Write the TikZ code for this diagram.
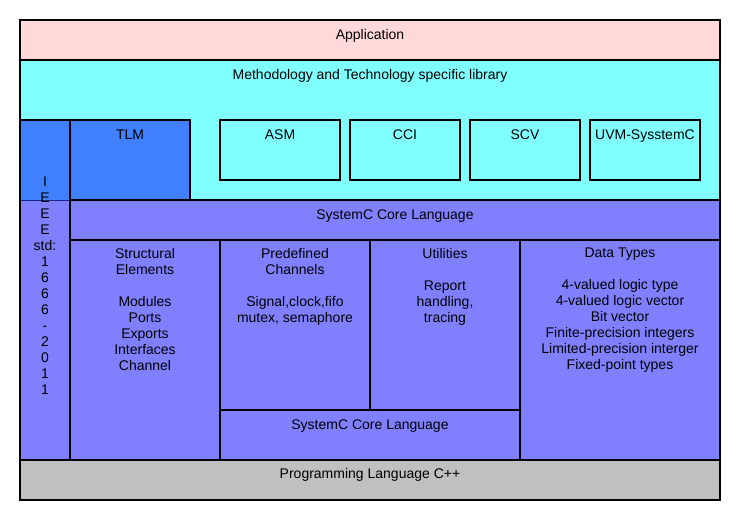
\documentclass[tikz,border=0pt]{standalone}
\usepackage{fontspec}
\setmainfont{Liberation Sans}
\definecolor{appcol}{RGB}{255,217,217}
\definecolor{libcol}{RGB}{128,255,255}
\definecolor{tlmcol}{RGB}{64,128,255}
\definecolor{corecol}{RGB}{128,128,255}
\definecolor{cppcol}{RGB}{192,192,192}
\definecolor{sepcol}{RGB}{20,40,140}
\tikzset{
  layer/.style={draw, line width=1.2pt, inner sep=0pt, outer sep=0pt, anchor=north west},
  txt/.style={anchor=north, align=center, inner sep=0pt, font=\fontsize{14}{16}\selectfont,
    execute at begin node=\strut}
}
\begin{document}
\begin{tikzpicture}[x=1pt,y=-1pt]
\useasboundingbox (0,0) rectangle (740,520);

% layers
\node[layer, fill=appcol, minimum width=700, minimum height=40] (app) at (20,20) {};
\node[layer, fill=libcol, minimum width=700, minimum height=140] (lib) at (20,60) {};
\node[layer, fill=cppcol, minimum width=700, minimum height=40] (cpp) at (20,460) {};

% IEEE column
\node[layer, draw=none, fill=tlmcol, minimum width=50, minimum height=80] (ieeeTop) at (20,120) {};
\node[layer, draw=none, fill=corecol, minimum width=50, minimum height=260] (ieeeLow) at (20,200) {};
\draw[sepcol, line width=0.8pt] (ieeeTop.south west) -- (ieeeTop.south east);
\draw[line width=1.2pt] (ieeeTop.north west) rectangle (ieeeLow.south east);

% libraries
\node[layer, fill=tlmcol, minimum width=120, minimum height=80] (tlm) at (70,120) {};
\node[layer, minimum width=120, minimum height=60] (asm) at (220,120) {};
\node[layer, minimum width=110, minimum height=60] (cci) at (350,120) {};
\node[layer, minimum width=110, minimum height=60] (scv) at (470,120) {};
\node[layer, minimum width=110, minimum height=60] (uvm) at (590,120) {};

% core
\node[layer, fill=corecol, minimum width=650, minimum height=40] (core) at (70,200) {};
\node[layer, fill=corecol, minimum width=150, minimum height=220] (struct) at (70,240) {};
\node[layer, fill=corecol, minimum width=150, minimum height=170] (chan) at (220,240) {};
\node[layer, fill=corecol, minimum width=150, minimum height=170] (util) at (370,240) {};
\node[layer, fill=corecol, minimum width=300, minimum height=50] (coreLow) at (220,410) {};
\node[layer, fill=corecol, minimum width=200, minimum height=220] (types) at (520,240) {};

% texts (first baseline about 19pt below the top edge)
\node[txt] (appT) at ([yshift=-7.8pt]app.north) {Application};
\node[txt] (libT) at ([yshift=-7.8pt]lib.north) {Methodology and Technology specific library};
\node[txt] (ieeeT) at ([yshift=-56.8pt]ieeeTop.north) {I\\E\\E\\E\\std:\\1\\6\\6\\6\\-\\2\\0\\1\\1};
\node[txt] (tlmT) at ([yshift=-7.8pt]tlm.north) {TLM};
\node[txt] (asmT) at ([yshift=-7.8pt]asm.north) {ASM};
\node[txt] (cciT) at ([yshift=-7.8pt]cci.north) {CCI};
\node[txt] (scvT) at ([yshift=-7.8pt]scv.north) {SCV};
\node[txt] (uvmT) at ([yshift=-7.8pt]uvm.north) {UVM-SysstemC};
\node[txt] (coreT) at ([yshift=-7.8pt]core.north) {SystemC Core Language};
\node[txt] (structT) at ([yshift=-7.8pt]struct.north) {Structural\\Elements\\[16pt]Modules\\Ports\\Exports\\Interfaces\\Channel};
\node[txt] (chanT) at ([yshift=-7.8pt]chan.north) {Predefined\\Channels\\[16pt]Signal,clock,fifo\\mutex, semaphore};
\node[txt] (utilT) at ([yshift=-7.8pt]util.north) {Utilities\\[16pt]Report\\handling,\\tracing};
\node[txt] (typesT) at ([yshift=-7.8pt]types.north) {Data Types\\[16pt]4-valued logic type\\4-valued logic vector\\Bit vector\\Finite-precision integers\\Limited-precision interger\\Fixed-point types};
\node[txt] (coreLowT) at ([yshift=-7.8pt]coreLow.north) {SystemC Core Language};
\node[txt] (cppT) at ([yshift=-6.8pt]cpp.north) {Programming Language C++};

\end{tikzpicture}
\end{document}
